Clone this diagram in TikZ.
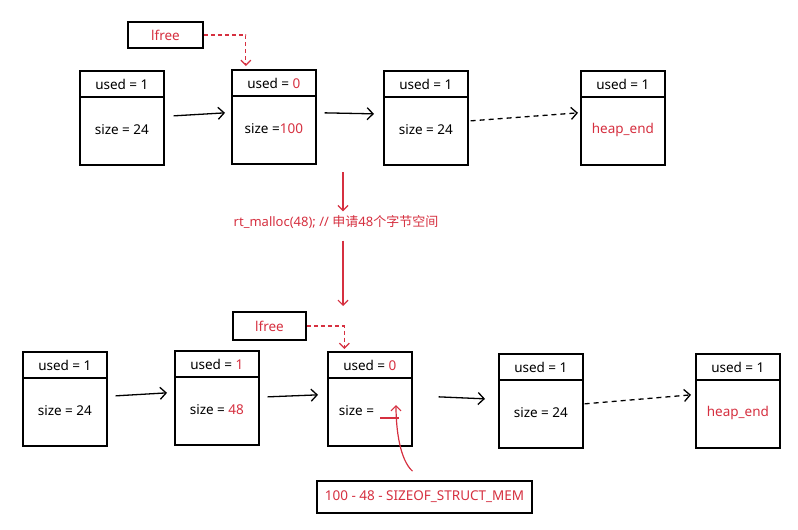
\documentclass[tikz,border=0pt]{standalone}
\usepackage{fontspec}
\setmainfont{Noto Sans}
\newfontfamily\cjk{Noto Sans CJK SC}
\usetikzlibrary{arrows.meta}
\definecolor{hred}{RGB}{214,48,64}
\tikzset{
  blk/.style={draw, line width=1.7pt, minimum width=84pt, minimum height=94pt, inner sep=0pt},
  lbl/.style={draw, line width=1.7pt, inner sep=0pt, text=hred, font=\fontsize{13.5}{15}\selectfont},
  txt/.style={inner sep=0pt, font=\fontsize{13.5}{15}\selectfont},
  barr/.style={line width=1.3pt, -{Straight Barb[length=6pt,width=12pt,line width=1.3pt]}},
  bdash/.style={barr, dash pattern=on 5pt off 4pt},
  rarr/.style={draw=hred, line width=1.2pt, -{Straight Barb[length=5pt,width=10pt,line width=1.2pt]}},
  rdash/.style={rarr, dash pattern=on 4pt off 3pt},
}
\newcommand\memblk[5]{%
  \node[blk, anchor=north west] (#1) at (#2,#3) {};
  \draw[line width=1.7pt] ([yshift=-27pt]#1.north west) -- ([yshift=-27pt]#1.north east);
  \node[txt] (#1u) at ([yshift=-14pt]#1.north) {#4};
  \node[txt] (#1s) at ([yshift=-60pt]#1.north) {#5};
}
\begin{document}
\begin{tikzpicture}[x=1pt,y=-1pt]
\useasboundingbox[fill=white] (0,0) rectangle (798,530);
% top row
\node[lbl, minimum width=75pt, minimum height=26pt] (lf1) at (165.5,35) {lfree};
\memblk{A}{79}{70}{used = 1}{size = 24}
\memblk{B}{231}{69}{used = \textcolor{hred}{0}}{size =\textcolor{hred}{100}}
\memblk{C}{383}{70}{used = 1}{size = 24}
\memblk{D}{580}{70}{used = 1}{\textcolor{hred}{heap\_end}}
\draw[barr] ([xshift=9pt,yshift=2pt]A.east) -- ([xshift=-6pt,yshift=4pt]B.west);
\draw[barr] ([xshift=8pt,yshift=4pt]B.east) -- ([xshift=-9pt,yshift=4pt]C.west);
\draw[bdash] ([xshift=2pt,yshift=-3pt]C.east) -- ([xshift=-2pt,yshift=5pt]D.west);
\draw[rdash, shorten >=3pt] (lf1.east) -| ([xshift=-28pt]B.north);
% malloc
\node[txt, text=hred, font=\fontsize{13}{15}\selectfont] (mal) at (336,222) {rt\_malloc(48); // {\cjk 申请}48{\cjk 个字节空间}};
\coordinate (m1) at (343,172);
\coordinate (m2) at (343,306);
\draw[rarr] (m1) -- ([yshift=4pt]mal.north -| m1);
\draw[rarr] ([yshift=-12pt]mal.south -| m1) -- (m2);
% bottom row
\node[lbl, minimum width=73pt, minimum height=28pt] (lf2) at (269.5,326) {lfree};
\memblk{E}{22}{351}{used = 1}{size = 24}
\memblk{F}{174}{350}{used = \textcolor{hred}{1}}{size = \textcolor{hred}{48}}
\memblk{G}{327}{351}{used = \textcolor{hred}{0}}{\makebox[62pt][l]{size =}}
\memblk{H}{498}{353}{used = 1}{size = 24}
\memblk{I}{695}{353}{used = 1}{\textcolor{hred}{heap\_end}}
\draw[barr] ([xshift=8pt,yshift=3pt]E.east) -- ([xshift=-7pt,yshift=5pt]F.west);
\draw[barr] ([xshift=8pt,yshift=1pt]F.east) -- ([xshift=-9pt,yshift=4pt]G.west);
\draw[barr] ([xshift=26pt,yshift=2pt]G.east) -- ([xshift=-13pt,yshift=2pt]H.west);
\draw[bdash] ([xshift=1pt,yshift=-3pt]H.east) -- ([xshift=-4pt,yshift=6pt]I.west);
\draw[rdash, shorten >=2pt] (lf2.east) -| ([xshift=-25.5pt]G.north);
% size annotation
\coordinate (u1) at (380,418);
\coordinate (u2) at (399,418);
\draw[hred, line width=1.3pt] (u1) -- (u2);
\coordinate (gu) at (396,405);
\node[lbl, minimum width=215pt, minimum height=32pt] (mem) at (424.5,497) {100 - 48 - SIZEOF\_STRUCT\_MEM};
\draw[rarr] ([xshift=-12pt,yshift=9pt]mem.north) .. controls (400,460) and (396,430) .. (gu);
\end{tikzpicture}
\end{document}
